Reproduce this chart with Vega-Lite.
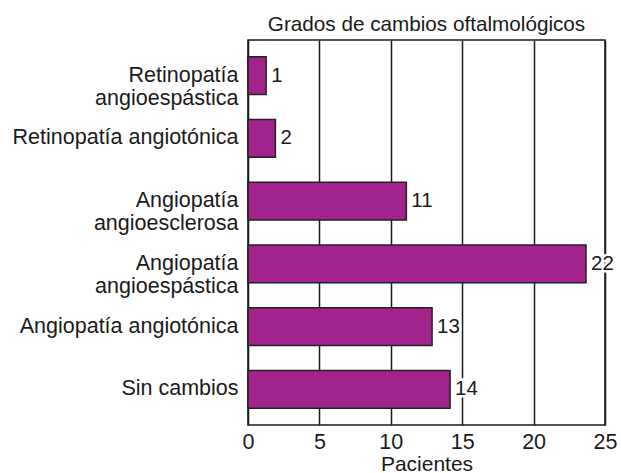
{
  "$schema": "https://vega.github.io/schema/vega-lite/v6.json",
  "width": 357,
  "height": 385,
  "autosize": {"type": "none"},
  "padding": {"left": 248, "top": 40, "right": 16, "bottom": 48},
  "background": "white",
  "config": {
    "font": "Liberation Sans",
    "view": {"stroke": "#1a1a1a", "strokeWidth": 1.5}
  },
  "title": {
    "text": "Grados de cambios oftalmológicos",
    "fontSize": 20.7,
    "fontWeight": "normal",
    "color": "#1a1a1a",
    "anchor": "middle",
    "offset": 4
  },
  "data": {
    "values": [
      {"grado": "Retinopatía|angioespástica", "pacientes": 1.27, "etiqueta": "1", "orden": 1},
      {"grado": "Retinopatía angiotónica", "pacientes": 1.92, "etiqueta": "2", "orden": 2},
      {"grado": "Angiopatía|angioesclerosa", "pacientes": 11.09, "etiqueta": "11", "orden": 3},
      {"grado": "Angiopatía|angioespástica", "pacientes": 23.67, "etiqueta": "22", "orden": 4},
      {"grado": "Angiopatía angiotónica", "pacientes": 12.89, "etiqueta": "13", "orden": 5},
      {"grado": "Sin cambios", "pacientes": 14.15, "etiqueta": "14", "orden": 6}
    ]
  },
  "encoding": {
    "y": {
      "field": "grado",
      "type": "nominal",
      "sort": {"field": "orden", "order": "ascending"},
      "scale": {"paddingInner": 0.396, "paddingOuter": 0.265},
      "axis": {
        "title": null,
        "domain": false,
        "ticks": false,
        "labelExpr": "split(datum.value, '|')",
        "labelFontSize": 21.5,
        "labelColor": "#1a1a1a",
        "labelPadding": 10,
        "labelLineHeight": 23,
        "labelLimit": 300
      }
    },
    "x": {
      "field": "pacientes",
      "type": "quantitative",
      "scale": {"domain": [0, 25], "nice": false},
      "axis": {
        "title": "Pacientes",
        "values": [0, 5, 10, 15, 20, 25],
        "domain": false,
        "ticks": false,
        "grid": true,
        "gridColor": "#1a1a1a",
        "gridWidth": 1.5,
        "gridOpacity": 1,
        "labelFontSize": 21.5,
        "labelColor": "#1a1a1a",
        "labelPadding": 6,
        "labelFlush": false,
        "titleFontSize": 21,
        "titleFontWeight": "normal",
        "titleColor": "#1a1a1a",
        "titleY": 45,
        "titleBaseline": "alphabetic"
      }
    }
  },
  "layer": [
    {
      "mark": {"type": "bar", "color": "#A2238B", "stroke": "#222", "strokeWidth": 1.5}
    },
    {
      "mark": {"type": "text", "align": "left", "baseline": "middle", "dx": 5, "fontSize": 20.5, "color": "white", "stroke": "white", "strokeWidth": 5},
      "encoding": {"text": {"field": "etiqueta"}}
    },
    {
      "mark": {"type": "text", "align": "left", "baseline": "middle", "dx": 5, "fontSize": 20.5, "color": "#1a1a1a"},
      "encoding": {"text": {"field": "etiqueta"}}
    }
  ]
}
